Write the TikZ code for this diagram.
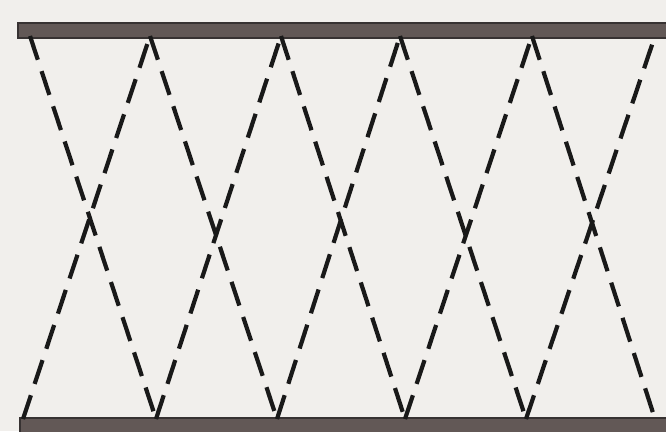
\documentclass[tikz,border=0pt]{standalone}
\begin{document}
\begin{tikzpicture}[x=1pt,y=-1pt,
  bar/.style={fill=barfill,draw=bardark,line width=1.5pt},
  wire/.style={line width=4.2pt,draw=black!90,dash pattern=on 25pt off 12pt}]
\definecolor{bg}{RGB}{241,239,236}
\definecolor{barfill}{RGB}{98,88,86}
\definecolor{bardark}{RGB}{55,50,50}
\useasboundingbox (0,0) rectangle (666,431);
\fill[bg] (0,0) rectangle (666,431);
\path[bar] (18,23) rectangle (668,38);
\path[bar] (20,418) rectangle (668,433);
\foreach \i/\x in {1/30,2/150,3/281,4/400,5/532,6/655} {\coordinate (t\i) at (\x,36);}
\foreach \i/\x in {1/23,2/156,3/277,4/405,5/526,6/655} {\coordinate (b\i) at (\x,419);}
\foreach \i/\j in {1/2,2/3,3/4,4/5,5/6} {
  \draw[wire] (t\i) -- (b\j);
  \draw[wire] (b\i) -- (t\j);
}
\end{tikzpicture}
\end{document}
